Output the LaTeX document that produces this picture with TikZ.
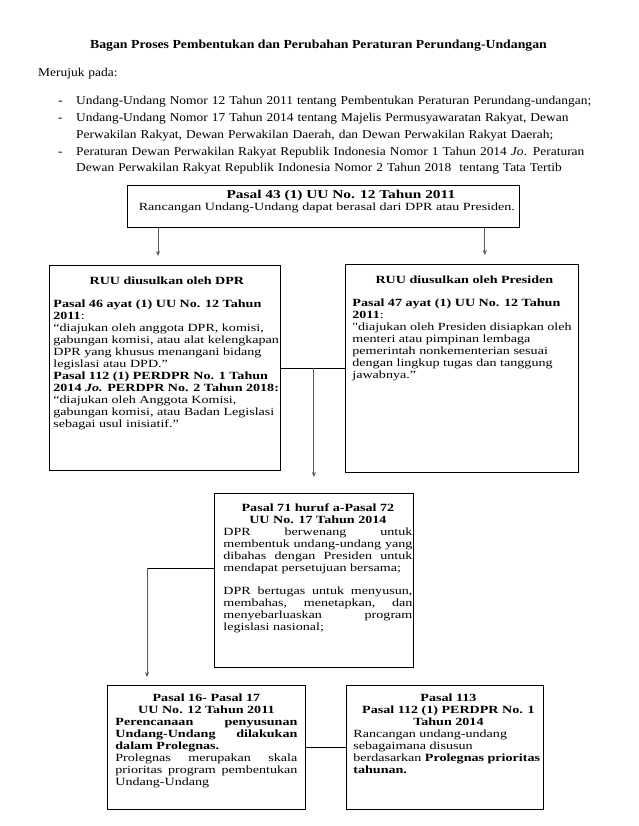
\documentclass[tikz,border=0pt]{standalone}
\usepackage{fontspec}
\setmainfont{Liberation Serif}[FakeStretch=1.12]
\newfontfamily\boxfont{Liberation Serif}[FakeStretch=1.28]
\usetikzlibrary{arrows.meta, calc, positioning}

% box text: left pad, width, right pad, height, body
\newcommand{\boxbody}[5]{\hspace*{#1}\begin{minipage}[t][#4][t]{#2}#5\end{minipage}\hspace*{#3}}
\newcommand{\hdr}[1]{{\centering\bfseries #1\par}}

\begin{document}
\begin{tikzpicture}[x=1pt, y=-1pt,
	box/.style={draw, line width=0.8pt, anchor=north west, inner sep=0pt, font=\boxfont\fontsize{11}{12}\selectfont},
	arr/.style={draw=black!65, line width=0.9pt, -{Stealth[length=5pt, width=4pt]}},
	link/.style={draw, line width=0.8pt},
	item/.style={anchor=base west, inner sep=0pt, text width=540pt, align=left, font=\fontsize{12}{16.7}\selectfont}]
	\useasboundingbox (0,0) rectangle (638,826);

	% heading and references
	\node[anchor=base, inner sep=0pt, font=\bfseries\fontsize{12.3}{15}\selectfont] (title) at (318.5,49)
		{Bagan Proses Pembentukan dan Perubahan Peraturan Perundang-Undangan};
	\node[item] (ref) at (38,77) {Merujuk pada:};
	\node[item] (d1) at (58,105) {-};
	\node[item] (d2) at (58,121.7) {-};
	\node[item] (d3) at (58,155.1) {-};
	\node[item] (b1) at (76,105) {Undang-Undang Nomor 12 Tahun 2011 tentang Pembentukan Peraturan Perundang-undangan;};
	\node[item] (b2) at (76,121.7) {Undang-Undang Nomor 17 Tahun 2014 tentang Majelis Permusyawaratan Rakyat, Dewan\\
		Perwakilan Rakyat, Dewan Perwakilan Daerah, dan Dewan Perwakilan Rakyat Daerah;};
	\node[item] (b3) at (76,155.1) {Peraturan Dewan Perwakilan Rakyat Republik Indonesia Nomor 1 Tahun 2014 \textit{Jo}. Peraturan\\
		Dewan Perwakilan Rakyat Republik Indonesia Nomor 2 Tahun 2018~ tentang Tata Tertib};

	% boxes
	\node[box] (pasal43) at (127,185) {\boxbody{8pt}{383pt}{1pt}{42pt}{%
		\vspace*{5pt}{\centering\bfseries\fontsize{12}{15}\selectfont\hspace*{28pt}Pasal 43 (1) UU No. 12 Tahun 2011\par}
		{\centering Rancangan Undang-Undang dapat berasal dari DPR atau Presiden.\par}}};

	\node[box] (dpr) at (49,265) {\boxbody{4pt}{227pt}{0pt}{205pt}{%
		\vspace*{11pt}\hdr{RUU diusulkan oleh DPR}
		\vspace{11pt}\raggedright
		\textbf{Pasal 46 ayat (1) UU No. 12 Tahun}\\
		\textbf{2011}:\\
		“diajukan oleh anggota DPR, komisi,\\
		gabungan komisi, atau alat kelengkapan\\
		DPR yang khusus menangani bidang\\
		legislasi atau DPD.”\\
		\textbf{Pasal 112 (1) PERDPR No. 1 Tahun}\\
		\textbf{2014 \textit{Jo.} PERDPR No. 2 Tahun 2018:}\\
		“diajukan oleh Anggota Komisi,\\
		gabungan komisi, atau Badan Legislasi\\
		sebagai usul inisiatif.”}};

	\node[box] (pres) at (345,264) {\boxbody{7pt}{224pt}{2pt}{208pt}{%
		\vspace*{11pt}\hdr{RUU diusulkan oleh Presiden}
		\vspace{11pt}\raggedright
		\textbf{Pasal 47 ayat (1) UU No. 12 Tahun}\\
		\textbf{2011}:\\
		"diajukan oleh Presiden disiapkan oleh\\
		menteri atau pimpinan lembaga\\
		pemerintah nonkementerian sesuai\\
		dengan lingkup tugas dan tanggung\\
		jawabnya.”}};

	\node[box] (uu17) at (214,493) {\boxbody{9pt}{189pt}{1pt}{174pt}{%
		\vspace*{10pt}\hdr{Pasal 71 huruf a-Pasal 72\\UU No. 17 Tahun 2014}
		DPR berwenang untuk\linebreak
		membentuk undang-undang yang\linebreak
		dibahas dengan Presiden untuk\linebreak
		mendapat persetujuan bersama;\par
		\vspace{11pt}
		DPR bertugas untuk menyusun,\linebreak
		membahas, menetapkan, dan\linebreak
		menyebarluaskan program\linebreak
		legislasi nasional;}};

	\node[box] (prolegnas) at (107,685) {\boxbody{8pt}{182pt}{8pt}{124pt}{%
		\vspace*{8pt}\hdr{Pasal 16- Pasal 17\\UU No. 12 Tahun 2011}
		\textbf{Perencanaan penyusunan\linebreak
		Undang-Undang dilakukan\linebreak
		dalam Prolegnas.}\par
		Prolegnas merupakan skala\linebreak
		prioritas program pembentukan\linebreak
		Undang-Undang}};

	\node[box] (pasal113) at (346,685) {\boxbody{7pt}{190pt}{0pt}{124pt}{%
		\vspace*{8pt}{\centering\bfseries Pasal 113\\Pasal 112 (1) PERDPR No. 1\\Tahun 2014\par}
		\raggedright
		Rancangan undang-undang\\
		sebagaimana disusun\\
		berdasarkan~\textbf{Prolegnas~prioritas}\\
		\textbf{tahunan.}}};

	% connectors
	\coordinate (a1) at ([xshift=31pt]pasal43.south west);
	\coordinate (a2) at ([xshift=-35pt]pasal43.south east);
	\draw[arr, shorten >=9pt] (a1) -- (a1 |- dpr.north);
	\draw[arr, shorten >=9pt] (a2) -- (a2 |- pres.north);

	\draw[link] (dpr.east) -- (dpr.east -| pres.west);
	\coordinate (m) at (dpr.east -| uu17.north);
	\draw[arr, shorten >=16pt] (m) -- (m |- uu17.north);

	\coordinate (k) at ([yshift=12pt]uu17.west);
	\coordinate (k2) at ([xshift=40pt]prolegnas.north west);
	\draw[link] (k) -- (k -| k2);
	\draw[arr, shorten >=8pt] (k -| k2) -- (k2);

	\draw[link] (prolegnas.east) -- (pasal113.west);
\end{tikzpicture}
\end{document}
